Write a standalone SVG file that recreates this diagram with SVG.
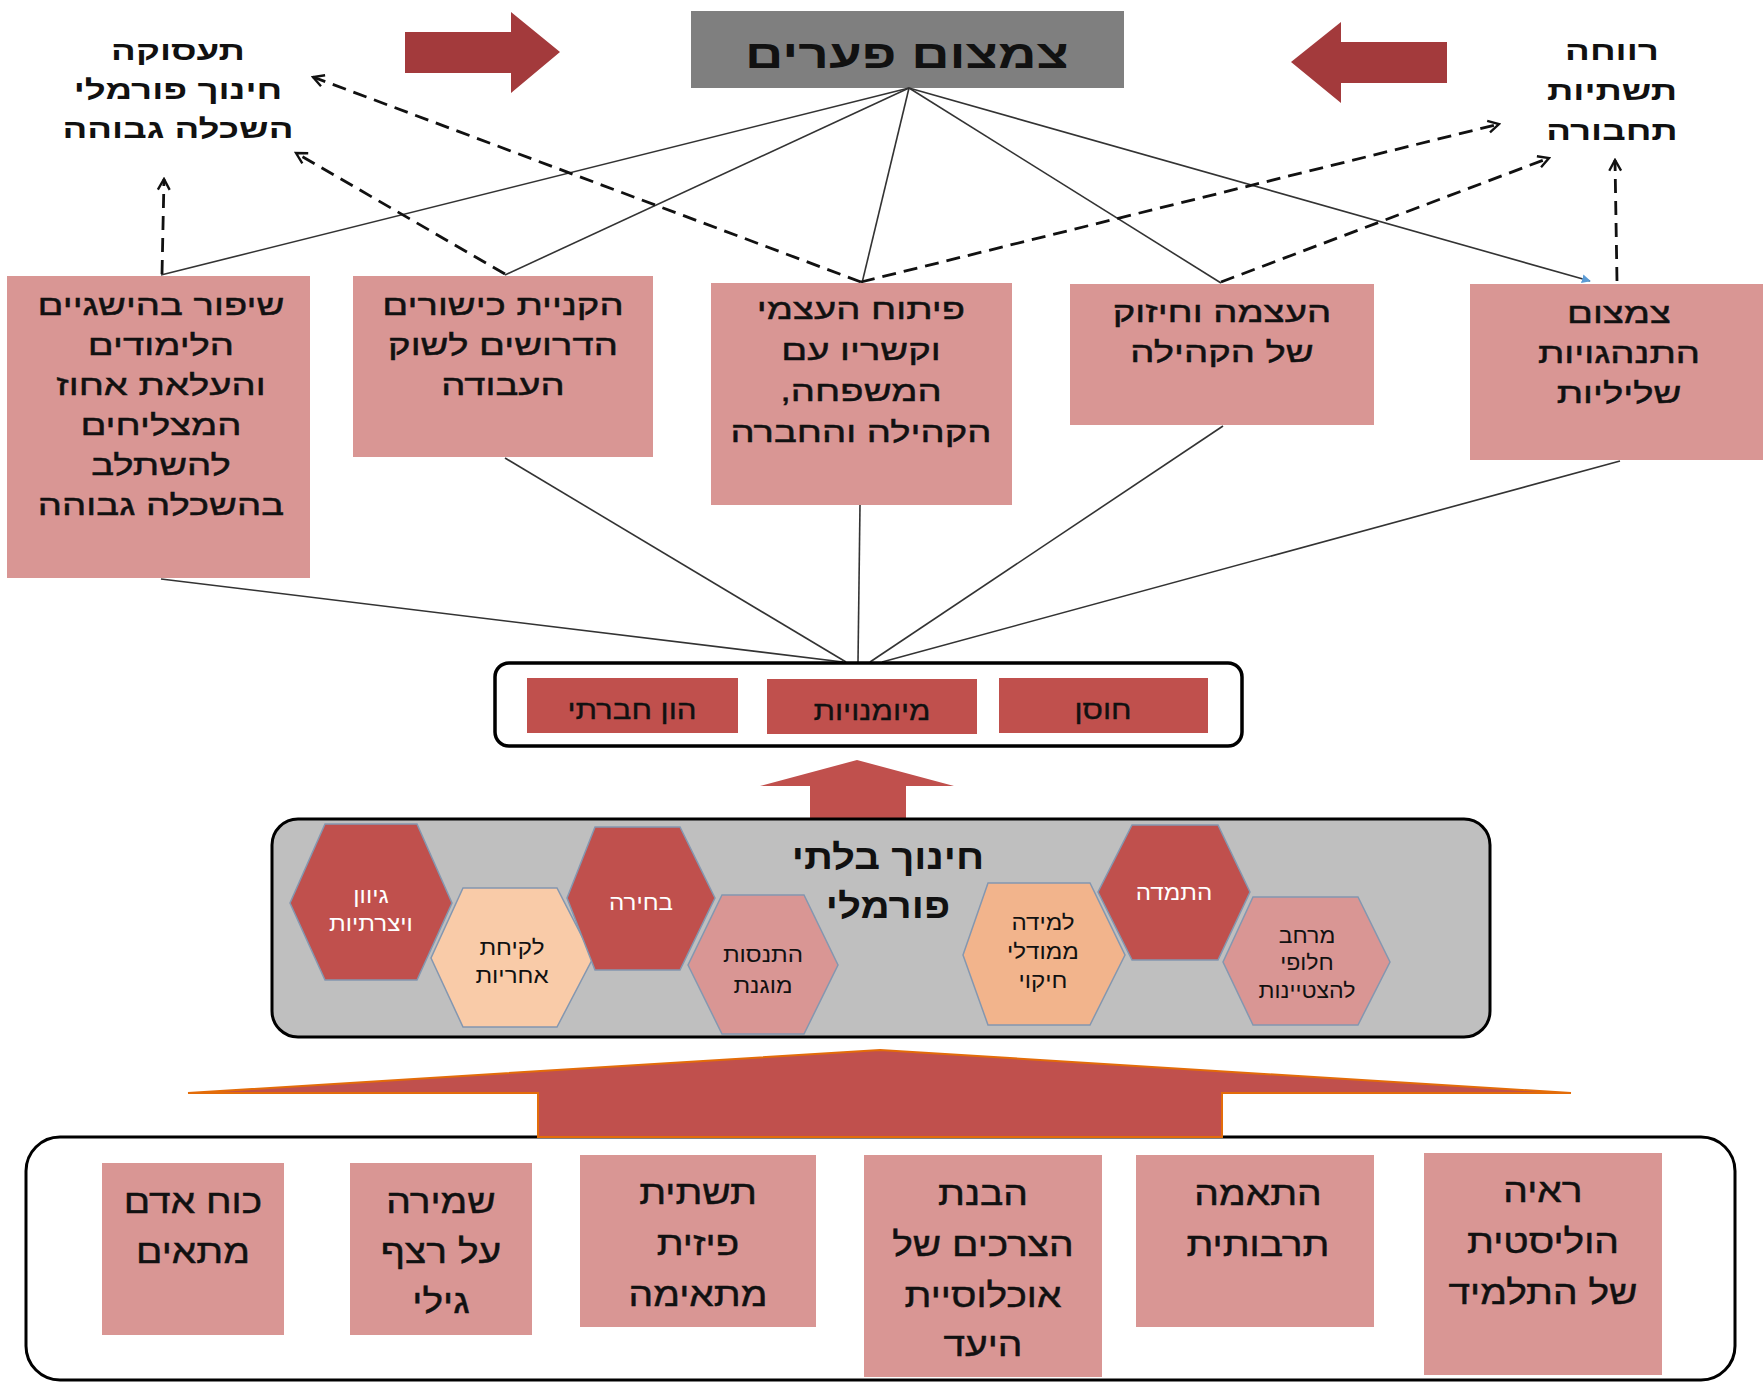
<svg xmlns="http://www.w3.org/2000/svg" width="1763" height="1383" viewBox="0 0 1763 1383">
<defs>
<style>
text{font-family:"Liberation Sans","DejaVu Sans",sans-serif;direction:rtl;text-anchor:middle;fill:#111}
.bold{font-weight:bold}
.mid{font-size:29px;stroke:#111;stroke-width:0.45}
.bot{font-size:33px;stroke:#111;stroke-width:0.45}
.sk{font-size:26px;stroke:#111;stroke-width:0.35}
.hx{font-size:21px}
.hw{fill:#fff}
.pink{fill:#D99694}
.red{fill:#C0504D}
.hex{stroke:#8497B0;stroke-width:1.5}
.solid{stroke:#333;stroke-width:1.6;fill:none}
.dash{stroke:#111;stroke-width:2.8;fill:none;stroke-dasharray:14 8}
</style>
<marker id="open" viewBox="0 0 14 14" refX="12" refY="7" markerWidth="15" markerHeight="15" markerUnits="userSpaceOnUse" orient="auto">
<path d="M2,1.5 L12,7 L2,12.5" fill="none" stroke="#111" stroke-width="2.2"/>
</marker>
<marker id="blue" viewBox="0 0 10 10" refX="9" refY="5" markerWidth="9" markerHeight="9" markerUnits="userSpaceOnUse" orient="auto">
<path d="M0,0 L10,5 L0,10 Z" fill="#5B9BD5"/>
</marker>
</defs>
<rect width="1763" height="1383" fill="#fff"/>

<!-- top title -->
<g id="title">
<rect x="691" y="11" width="433" height="77" fill="#7F7F7F"/>
<g transform="matrix(1.33,0,0,1,-299.31,0)"><text x="907" y="68" class="bold" font-size="40">צמצום פערים</text></g>
</g>
<g id="arrow-right">
<polygon points="405,32 511,32 511,12 560,52 511,93 511,73 405,73" fill="#A33A3C"/>
</g>
<g id="arrow-left">
<polygon points="1447,42 1341,42 1341,22 1291,62 1341,103 1341,83 1447,83" fill="#A33A3C"/>
</g>
<g id="label-left">
<g transform="matrix(1.36,0,0,1,-64.08,0)">
<text x="178" y="60" class="bold" font-size="27">תעסוקה</text>
<text x="178" y="99" class="bold" font-size="27">חינוך פורמלי</text>
<text x="178" y="138" class="bold" font-size="27">השכלה גבוהה</text>
</g>
</g>
<g id="label-right">
<g transform="matrix(1.36,0,0,1,-580.32,0)">
<text x="1612" y="60" class="bold" font-size="27">רווחה</text>
<text x="1612" y="100" class="bold" font-size="27">תשתיות</text>
<text x="1612" y="140" class="bold" font-size="27">תחבורה</text>
</g>
</g>

<!-- connectors -->
<g id="connectors">
<line class="solid" x1="909" y1="88" x2="161" y2="275"/>
<line class="solid" x1="909" y1="88" x2="505" y2="275"/>
<line class="solid" x1="909" y1="88" x2="862" y2="283"/>
<line class="solid" x1="909" y1="88" x2="1221" y2="283"/>
<line class="solid" x1="909" y1="88" x2="1590" y2="281" marker-end="url(#blue)"/>
<line class="dash" x1="162" y1="274" x2="164" y2="179" marker-end="url(#open)"/>
<line class="dash" x1="505" y1="274" x2="296" y2="153" marker-end="url(#open)"/>
<line class="dash" x1="861" y1="282" x2="313" y2="77" marker-end="url(#open)"/>
<line class="dash" x1="861" y1="282" x2="1499" y2="124" marker-end="url(#open)"/>
<line class="dash" x1="1221" y1="282" x2="1549" y2="158" marker-end="url(#open)"/>
<line class="dash" x1="1617" y1="281" x2="1615" y2="160" marker-end="url(#open)"/>
<line class="solid" x1="161" y1="579" x2="843" y2="662"/>
<line class="solid" x1="505" y1="458" x2="846" y2="662"/>
<line class="solid" x1="860" y1="505" x2="858" y2="662"/>
<line class="solid" x1="1223" y1="426" x2="870" y2="662"/>
<line class="solid" x1="1620" y1="461" x2="882" y2="662"/>
</g>

<!-- middle row -->
<g id="box-achievement">
<rect class="pink" x="7" y="276" width="303" height="302"/>
<g transform="matrix(1.32,0,0,1,-51.52,0)">
<text class="mid" x="161" y="315">שיפור בהישגיים</text>
<text class="mid" x="161" y="355">הלימודים</text>
<text class="mid" x="161" y="395">והעלאת אחוז</text>
<text class="mid" x="161" y="435">המצליחים</text>
<text class="mid" x="161" y="475">להשתלב</text>
<text class="mid" x="161" y="515">בהשכלה גבוהה</text>
</g>
</g>
<g id="box-skills">
<rect class="pink" x="353" y="276" width="300" height="181"/>
<g transform="matrix(1.32,0,0,1,-160.96,0)">
<text class="mid" x="503" y="315">הקניית כישורים</text>
<text class="mid" x="503" y="355">הדרושים לשוק</text>
<text class="mid" x="503" y="395">העבודה</text>
</g>
</g>
<g id="box-self">
<rect class="pink" x="711" y="283" width="301" height="222"/>
<g transform="matrix(1.32,0,0,1,-275.52,0)">
<text class="mid" x="861" y="319">פיתוח העצמי</text>
<text class="mid" x="861" y="360">וקשריו עם</text>
<text class="mid" x="861" y="401">המשפחה,</text>
<text class="mid" x="861" y="442">הקהילה והחברה</text>
</g>
</g>
<g id="box-community">
<rect class="pink" x="1070" y="284" width="304" height="141"/>
<g transform="matrix(1.32,0,0,1,-391.04,0)">
<text class="mid" x="1222" y="322">העצמה וחיזוק</text>
<text class="mid" x="1222" y="362">של הקהילה</text>
</g>
</g>
<g id="box-behavior">
<rect class="pink" x="1470" y="284" width="293" height="176"/>
<g transform="matrix(1.32,0,0,1,-518.08,0)">
<text class="mid" x="1619" y="323">צמצום</text>
<text class="mid" x="1619" y="363">התנהגויות</text>
<text class="mid" x="1619" y="403">שליליות</text>
</g>
</g>

<!-- skill outcomes -->
<g id="outcomes">
<rect x="495" y="663" width="747" height="83" rx="14" fill="#fff" stroke="#000" stroke-width="3.5"/>
<g id="out-social"><rect class="red" x="527" y="678" width="211" height="55"/><g transform="matrix(1.2,0,0,1,-126.4,0)"><text class="sk" x="632" y="719">הון חברתי</text></g></g>
<g id="out-skills"><rect class="red" x="767" y="679" width="210" height="55"/><g transform="matrix(1.2,0,0,1,-174.4,0)"><text class="sk" x="872" y="720">מיומנויות</text></g></g>
<g id="out-resilience"><rect class="red" x="999" y="678" width="209" height="55"/><g transform="matrix(1.2,0,0,1,-220.6,0)"><text class="sk" x="1103" y="719">חוסן</text></g></g>
</g>
<g id="arrow-up">
<polygon points="857,760 954,786 906,786 906,818 810,818 810,786 760,786" fill="#C0504D"/>
</g>

<!-- non formal education -->
<g id="nonformal">
<rect x="272" y="819" width="1218" height="218" rx="26" fill="#BFBFBF" stroke="#000" stroke-width="3"/>
<g transform="matrix(1.15,0,0,1,-133.2,0)">
<text x="888" y="869" class="bold" font-size="35">חינוך בלתי</text>
<text x="888" y="918" class="bold" font-size="35">פורמלי</text>
</g>
</g>
<g id="hex-diversity">
<polygon class="hex red" points="325,824 417,824 452,903 417,980 325,980 290,903"/>
<g transform="matrix(1.15,0,0,1,-55.65,0)">
<text class="hx hw" x="371" y="903">גיוון</text>
<text class="hx hw" x="371" y="931">ויצרתיות</text>
</g>
</g>
<g id="hex-responsibility">
<polygon class="hex" fill="#F9CBA8" points="463,888 557,888 593,958 557,1027 463,1027 431,958"/>
<g transform="matrix(1.15,0,0,1,-76.8,0)">
<text class="hx" x="512" y="955" font-size="22">לקיחת</text>
<text class="hx" x="512" y="983" font-size="22">אחריות</text>
</g>
</g>
<g id="hex-choice">
<polygon class="hex red" points="595,827 680,827 715,898 680,970 595,970 567,898"/>
<g transform="matrix(1.15,0,0,1,-96.15,0)">
<text class="hx hw" x="641" y="910" font-size="22">בחירה</text>
</g>
</g>
<g id="hex-experience">
<polygon class="hex pink" points="722,895 804,895 838,965 804,1034 722,1034 688,965"/>
<g transform="matrix(1.15,0,0,1,-114.45,0)">
<text class="hx" x="763" y="962">התנסות</text>
<text class="hx" x="763" y="993">מוגנת</text>
</g>
</g>
<g id="hex-rolemodels">
<polygon class="hex" fill="#F2B48C" points="988,883 1090,883 1125,955 1090,1025 988,1025 963,955"/>
<g transform="matrix(1.15,0,0,1,-156.45,0)">
<text class="hx" x="1043" y="930" font-size="22">למידה</text>
<text class="hx" x="1043" y="959" font-size="22">ממודלי</text>
<text class="hx" x="1043" y="988" font-size="22">חיקוי</text>
</g>
</g>
<g id="hex-persistence">
<polygon class="hex red" points="1132,825 1218,825 1250,892 1218,960 1132,960 1098,892"/>
<g transform="matrix(1.15,0,0,1,-176.1,0)">
<text class="hx hw" x="1174" y="900">התמדה</text>
</g>
</g>
<g id="hex-excellence">
<polygon class="hex pink" points="1253,897 1358,897 1390,962 1358,1025 1253,1025 1223,962"/>
<g transform="matrix(1.1,0,0,1,-130.7,0)">
<text class="hx" x="1307" y="943">מרחב</text>
<text class="hx" x="1307" y="970">חלופי</text>
<text class="hx" x="1307" y="998">להצטיינות</text>
</g>
</g>

<!-- bottom foundations -->
<g id="foundations">
<rect x="26" y="1137" width="1709" height="243" rx="34" fill="#fff" stroke="#000" stroke-width="3"/>
</g>
<g id="arrow-big">
<polygon points="880,1050 1571,1093 1222,1093 1222,1137 538,1137 538,1093 188,1093" fill="#C0504D" stroke="#E36C09" stroke-width="2" stroke-linejoin="miter"/>
</g>
<g id="f-staff">
<rect class="pink" x="102" y="1163" width="182" height="172"/>
<g transform="matrix(1.18,0,0,1,-34.74,0)">
<text class="bot" x="193" y="1213">כוח אדם</text>
<text class="bot" x="193" y="1263">מתאים</text>
</g>
</g>
<g id="f-age">
<rect class="pink" x="350" y="1163" width="182" height="172"/>
<g transform="matrix(1.18,0,0,1,-79.38,0)">
<text class="bot" x="441" y="1213">שמירה</text>
<text class="bot" x="441" y="1263">על רצף</text>
<text class="bot" x="441" y="1313">גילי</text>
</g>
</g>
<g id="f-infra">
<rect class="pink" x="580" y="1155" width="236" height="172"/>
<g transform="matrix(1.18,0,0,1,-125.64,0)">
<text class="bot" x="698" y="1204">תשתית</text>
<text class="bot" x="698" y="1255">פיזית</text>
<text class="bot" x="698" y="1306">מתאימה</text>
</g>
</g>
<g id="f-needs">
<rect class="pink" x="864" y="1155" width="238" height="222"/>
<g transform="matrix(1.18,0,0,1,-176.94,0)">
<text class="bot" x="983" y="1205">הבנת</text>
<text class="bot" x="983" y="1256">הצרכים של</text>
<text class="bot" x="983" y="1307">אוכלוסיית</text>
<text class="bot" x="983" y="1356">היעד</text>
</g>
</g>
<g id="f-culture">
<rect class="pink" x="1136" y="1155" width="238" height="172"/>
<g transform="matrix(1.18,0,0,1,-226.44,0)">
<text class="bot" x="1258" y="1205">התאמה</text>
<text class="bot" x="1258" y="1256">תרבותית</text>
</g>
</g>
<g id="f-holistic">
<rect class="pink" x="1424" y="1153" width="238" height="222"/>
<g transform="matrix(1.18,0,0,1,-277.74,0)">
<text class="bot" x="1543" y="1202">ראיה</text>
<text class="bot" x="1543" y="1253">הוליסטית</text>
<text class="bot" x="1543" y="1304">של התלמיד</text>
</g>
</g>
</svg>
